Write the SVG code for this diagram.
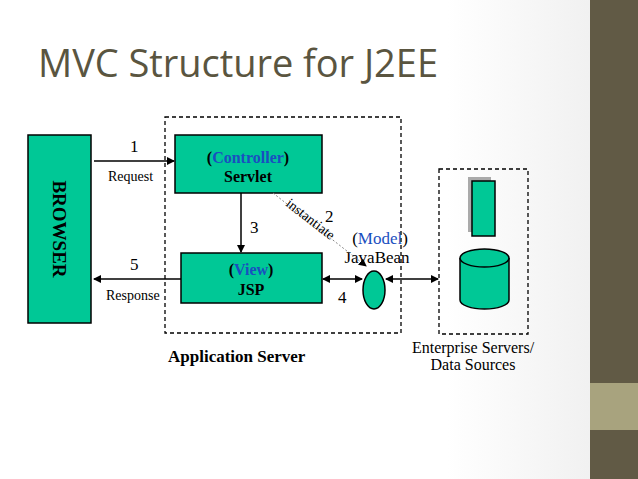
<svg xmlns="http://www.w3.org/2000/svg" width="638" height="479" viewBox="0 0 638 479">
<defs>
<marker id="ah" markerWidth="8" markerHeight="8" refX="7" refY="4" orient="auto-start-reverse" markerUnits="userSpaceOnUse"><path d="M0,0 L8,4 L0,8 z" fill="#000"/></marker>
<linearGradient id="bg" x1="0" x2="1"><stop offset="0.7" stop-color="#fff"/><stop offset="1" stop-color="#ececec"/></linearGradient>
</defs>
<style>
.n{fill:#00c896;stroke:#000;stroke-width:1.5}
.d{fill:none;stroke:#000;stroke-width:1.3;stroke-dasharray:4,3}
.t{font-family:"Liberation Serif",serif;fill:#000}
.b{font-weight:bold}
.bl{fill:#1a4fc0}
.c{stroke:#000;stroke-width:1.5;fill:none}
</style>
<rect width="638" height="479" fill="url(#bg)"/>
<rect x="590" y="0" width="48" height="479" fill="#615a45"/>
<rect x="590" y="383" width="48" height="47" fill="#a8a37e"/>
<text x="38" y="77" font-family="'Open Sans',sans-serif" font-size="38" fill="#5a5540" textLength="400">MVC Structure for J2EE</text>

<g id="appserver"><rect class="d" x="165" y="117" width="236" height="216"/><text class="t b" x="168" y="362" style="font-size:17px">Application Server</text></g>
<g id="enterprise"><rect class="d" x="439" y="169" width="89" height="165"/>
<rect x="468" y="177" width="23" height="55" fill="#aaa"/>
<rect class="n" x="472" y="181" width="23" height="55"/>
<path class="n" d="M460,258 v42 a24.5,9 0 0 0 49,0 v-42"/>
<ellipse class="n" cx="484.5" cy="258" rx="24.5" ry="9"/>
<text class="t" x="473" y="353" text-anchor="middle" style="font-size:16px">Enterprise Servers/</text>
<text class="t" x="473" y="370" text-anchor="middle" style="font-size:16px">Data Sources</text></g>
<g id="browser"><rect class="n" x="28" y="135" width="63" height="188"/><text class="t b" transform="translate(53,229) rotate(90)" text-anchor="middle" style="font-size:19px">BROWSER</text></g>
<g id="servlet"><rect class="n" x="175" y="135" width="147" height="58"/><text class="t b" x="248" y="163" text-anchor="middle" style="font-size:16px">(<tspan class="bl">Controller</tspan>)</text><text class="t b" x="248" y="182" text-anchor="middle" style="font-size:16px">Servlet</text></g>
<g id="jsp"><rect class="n" x="181" y="253" width="141" height="50"/><text class="t b" x="251" y="275" text-anchor="middle" style="font-size:16px">(<tspan class="bl">View</tspan>)</text><text class="t b" x="251" y="295" text-anchor="middle" style="font-size:16px">JSP</text></g>
<g id="javabean"><ellipse class="n" cx="374" cy="290" rx="11" ry="19"/><text class="t" x="380" y="244" text-anchor="middle" style="font-size:17px">(<tspan class="bl">Model</tspan>)</text><text class="t" x="377" y="263" text-anchor="middle" style="font-size:17px">JavaBean</text></g>

<g id="connectors">
<line class="c" x1="94" y1="161" x2="174" y2="161" marker-end="url(#ah)"/>
<text class="t" x="130" y="152" style="font-size:17px">1</text><text class="t" x="108" y="181" style="font-size:14px">Request</text>
<line class="c" x1="241" y1="193" x2="241" y2="252" marker-end="url(#ah)"/>
<text class="t" x="250" y="233" style="font-size:17px">3</text>
<line class="c" x1="181" y1="279" x2="94" y2="279" marker-end="url(#ah)"/>
<text class="t" x="130" y="270" style="font-size:17px">5</text><text class="t" x="106" y="300" style="font-size:14px">Response</text>
<line x1="273" y1="193" x2="366" y2="266" stroke="#888" stroke-width="1" stroke-dasharray="2,2" marker-end="url(#ah)"/>
<text class="t" transform="translate(285,205) rotate(38)" style="font-size:14px">instantiate</text>
<text class="t" x="325" y="222" style="font-size:17px">2</text>
<line class="c" x1="323" y1="279" x2="362" y2="279" marker-start="url(#ah)" marker-end="url(#ah)"/>
<text class="t" x="338" y="303" style="font-size:17px">4</text>
<line class="c" x1="386" y1="279" x2="438" y2="279" marker-start="url(#ah)" marker-end="url(#ah)"/>
</g>
</svg>
